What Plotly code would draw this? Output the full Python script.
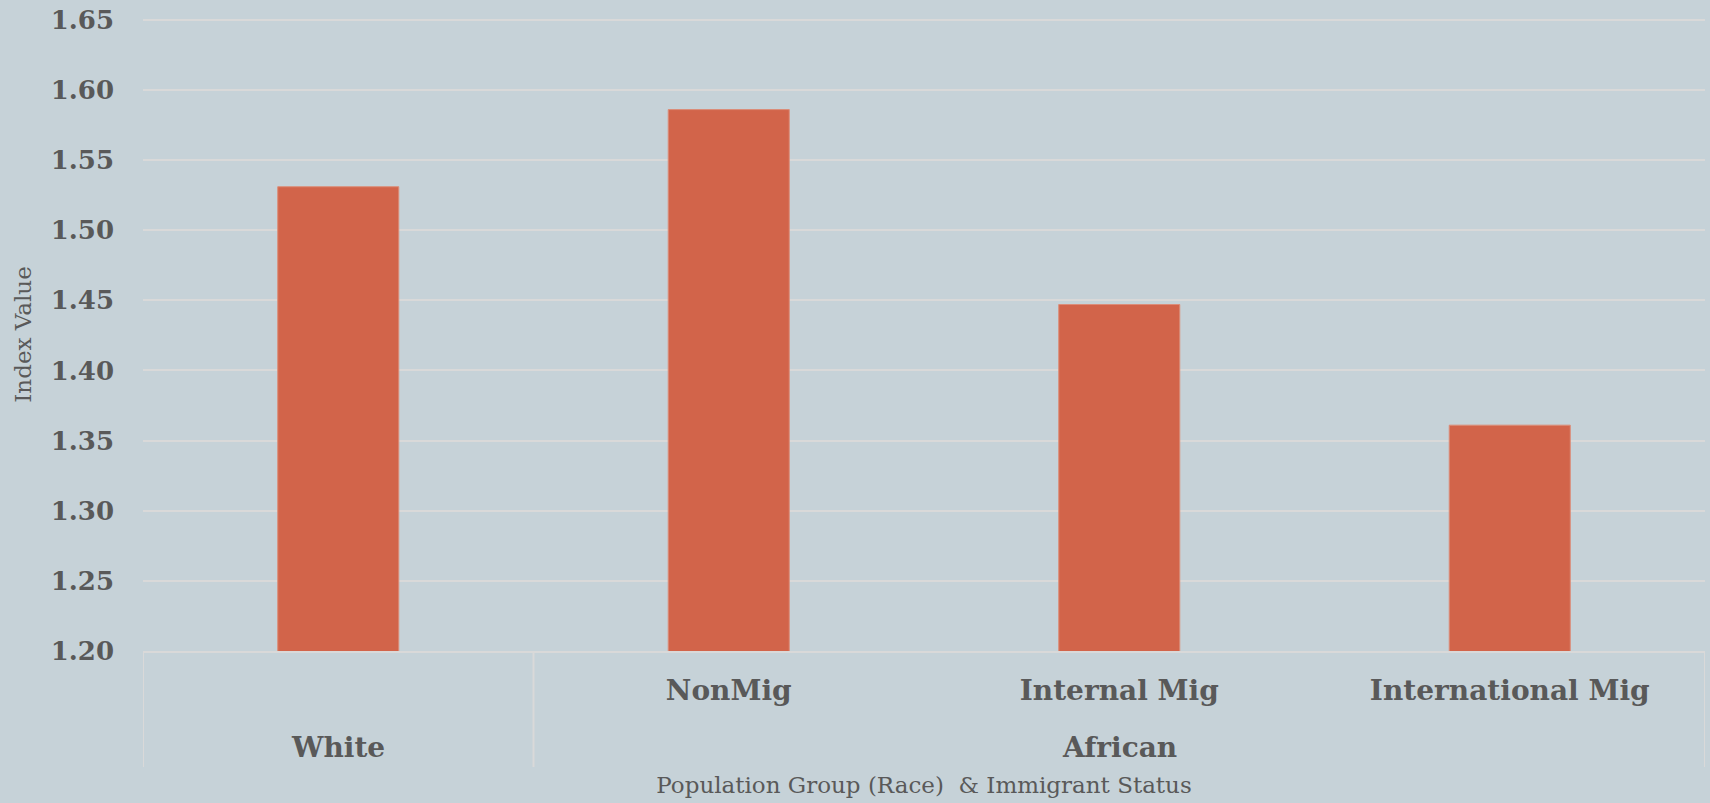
import plotly.graph_objects as go

# Population groups (outer level) and immigrant status (inner level)
race_groups = ["White", "African", "African", "African"]
migrant_status = [" ", "NonMig", "Internal Mig", "International Mig"]
index_values = [1.531, 1.586, 1.447, 1.361]

y_ticks = [1.20, 1.25, 1.30, 1.35, 1.40, 1.45, 1.50, 1.55, 1.60, 1.65]

BG = "#c6d2d8"
BAR = "#d2644a"
GRID = "#d9d9d9"
TEXT = "#595959"
SERIF = "DejaVu Serif"

fig = go.Figure(
    go.Bar(
        x=migrant_status,
        y=index_values,
        marker=dict(color=BAR, line=dict(color="#dc8d78", width=1)),
        hoverinfo="y",
    )
)

# Outer-level group labels centred under their categories, with dividers
# drawn at the group boundaries
group_order = []
for g in race_groups:
    if g not in group_order:
        group_order.append(g)

annotations = []
boundaries = [-0.5]
for g in group_order:
    idx = [i for i, r in enumerate(race_groups) if r == g]
    annotations.append(dict(
        x=sum(idx) / len(idx), xref="x",
        y=-0.152, yref="paper",
        text=f"<b>{g}</b>", showarrow=False,
        xanchor="center", yanchor="middle",
        font=dict(family=SERIF, size=28, color=TEXT),
    ))
    boundaries.append(max(idx) + 0.5)

# Vertical y-axis title, placed at the far left of the figure
annotations.append(dict(
    x=-0.077, xref="paper", y=0.5, yref="paper",
    text="Index Value", textangle=-90, showarrow=False,
    xanchor="center", yanchor="middle",
    font=dict(family=SERIF, size=23, color=TEXT),
))

shapes = [
    dict(type="line", xref="x", yref="paper", x0=b, x1=b, y0=0, y1=-0.183,
         line=dict(color=GRID, width=2))
    for b in boundaries
]

fig.update_layout(
    width=1710,
    height=803,
    paper_bgcolor=BG,
    plot_bgcolor=BG,
    margin=dict(l=143, r=5, t=17, b=152),
    bargap=0.69,
    showlegend=False,
    font=dict(family=SERIF, color=TEXT),
    annotations=annotations,
    shapes=shapes,
)

fig.update_xaxes(
    type="category",
    categoryorder="array",
    categoryarray=migrant_status,
    range=[-0.5, len(migrant_status) - 0.5],
    showline=True,
    linecolor=GRID,
    linewidth=2,
    showgrid=False,
    ticks="",
    ticklabelstandoff=13,
    tickfont=dict(family=SERIF, size=28, weight="bold", color=TEXT),
    title=dict(
        text="Population Group (Race)  & Immigrant Status",
        font=dict(family=SERIF, size=23, color=TEXT),
        standoff=71,
    ),
)

fig.update_yaxes(
    range=[1.2, 1.652],
    tickvals=y_ticks,
    tickformat=".2f",
    showgrid=True,
    gridcolor=GRID,
    gridwidth=2,
    zeroline=False,
    ticks="",
    ticklabelstandoff=28,
    tickfont=dict(family=SERIF, size=26, weight="bold", color=TEXT),
)

fig.write_html("out.html")
